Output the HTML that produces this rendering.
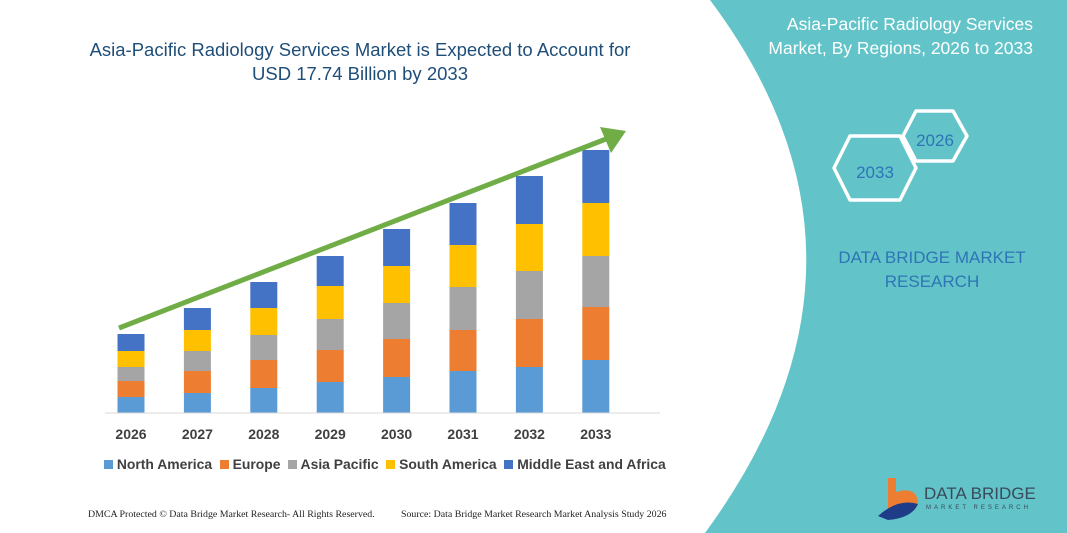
<!DOCTYPE html><html><head><style>
body{margin:0;width:1067px;height:533px;overflow:hidden;background:#fff;font-family:"Liberation Sans",sans-serif;position:relative}
.t{position:absolute;white-space:nowrap}
</style></head><body>
<svg width="1067" height="533" style="position:absolute;left:0;top:0">
<path d="M710,0 Q905,260 705,533 L1067,533 L1067,0 Z" fill="#62c4c8"/>
<g fill="none" stroke="#fff" stroke-width="3.5" stroke-linejoin="round">
<polygon points="903,136 916,111 953,111 967,136 953,161 916,161"/>
<polygon points="834,168 850,136 900,136 916,168 900,200 850,200"/>
</g>
<text x="935" y="146" font-size="17" fill="#2e75b6" text-anchor="middle" font-family="Liberation Sans">2026</text>
<text x="875" y="178" font-size="17" fill="#2e75b6" text-anchor="middle" font-family="Liberation Sans">2033</text>
<g id="bars"></g>
<line x1="105" y1="413" x2="660" y2="413" stroke="#d9d9d9"/>
<line x1="119" y1="328" x2="606" y2="139" stroke="#70ad47" stroke-width="5"/>
<polygon points="626,131 600,127 611,153" fill="#70ad47"/>
<path d="M888,478 h8 v14 q20,-6 22,10 q-2,14 -22,12 h-8z" fill="#ed7d31"/>
<path d="M878,516 q20,-18 40,-12 q-6,14 -30,16z" fill="#1f3c88"/>
</svg>
<div class="t" style="left:0;width:720px;top:38px;text-align:center;font-size:18.5px;line-height:24px;color:#1f4e79">Asia-Pacific Radiology Services Market is Expected to Account for<br>USD 17.74 Billion by 2033</div>
<div class="t" style="right:34px;top:12px;text-align:right;font-size:17.5px;line-height:24px;color:#fff">Asia-Pacific Radiology Services<br>Market, By Regions, 2026 to 2033</div>
<div class="t" style="left:832px;width:200px;top:246px;text-align:center;font-size:17px;line-height:24px;color:#2e75b6">DATA BRIDGE MARKET<br>RESEARCH</div>
<div class="t" style="left:924px;top:484px;font-size:17px;color:#3a4a5a">DATA BRIDGE</div>
<div class="t" style="left:926px;top:505px;font-size:6px;letter-spacing:3px;color:#3a4a5a">MARKET RESEARCH</div>
<div id="yrs"></div>
<div class="t" style="left:104px;top:456px;font-size:13.9px;color:#404040;font-weight:bold">
<span style="display:inline-block;width:9px;height:9px;background:#5b9bd5"></span> North America &nbsp;<span style="display:inline-block;width:9px;height:9px;background:#ed7d31"></span> Europe &nbsp;<span style="display:inline-block;width:9px;height:9px;background:#a5a5a5"></span> Asia Pacific &nbsp;<span style="display:inline-block;width:9px;height:9px;background:#ffc000"></span> South America &nbsp;<span style="display:inline-block;width:9px;height:9px;background:#4472c4"></span> Middle East and Africa</div>
<div class="t" style="left:88px;top:509px;font-size:9.9px;font-family:'Liberation Serif',serif;color:#222">DMCA Protected © Data Bridge Market Research- All Rights Reserved.</div>
<div class="t" style="left:401px;top:509px;font-size:9.9px;font-family:'Liberation Serif',serif;color:#222">Source: Data Bridge Market Research Market Analysis Study 2026</div>
<script>
var d=[[334,351,367,381,397],[308,330,351,371,393],[282,308,335,360,388],[256,286,319,350,382],[229,266,303,339,377],[203,245,287,330,371],[176,224,271,319,367],[150,203,256,307,360]];
var c=["#4472c4","#ffc000","#a5a5a5","#ed7d31","#5b9bd5"];
var g=document.getElementById('bars'),s='',y='';
d.forEach(function(b,i){var cx=131+i*66.4;var e=b.concat([413]);
for(var k=0;k<5;k++)s+='<rect x="'+(cx-13.5)+'" y="'+e[k]+'" width="27" height="'+(e[k+1]-e[k])+'" fill="'+c[k]+'"/>';
y+='<div class="t" style="left:'+(cx-25)+'px;width:50px;text-align:center;top:426px;font-size:14px;font-weight:bold;color:#404040">'+(2026+i)+'</div>';});
g.innerHTML=s;document.getElementById('yrs').innerHTML=y;
</script>
</body></html>
